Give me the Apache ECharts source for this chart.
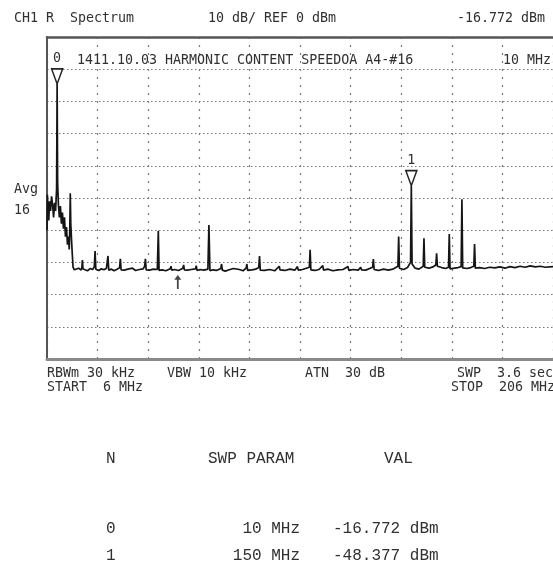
<!DOCTYPE html>
<html>
<head>
<meta charset="utf-8">
<title>CH1 R Spectrum</title>
<script src="https://cdn.jsdelivr.net/npm/echarts@6.0.0/dist/echarts.min.js"></script>
<style>
  html, body { margin: 0; padding: 0; background: #ffffff; }
  #chart { width: 553px; height: 563px; }
</style>
</head>
<body>
<div id="chart"></div>
<script>
// Sweep settings: 6 MHz to 206 MHz, 10 dB/div, 10 divisions
const sweepStartMHz = 6;
const sweepStopMHz = 206;
const refLevelDbm = 0;
const dbPerDiv = 10;
const divisions = 10;
const mhzPerDiv = 20;
// trace sits about 2.2 dB above the graticule on this display
const traceOffsetDb = 2.2;

// Markers N = 0, 1
const markerNumbers = [0, 1];
const markerFreqs = [10, 150];           // MHz
const markerLevels = [-16.772, -48.377]; // dBm

// Averaged trace (16 sweeps): [frequency MHz, level dBm]
const trace = [
  [6.0, -62.2], [6.15, -51.2], [6.4, -55.2], [6.7, -59.2], [7.0, -53.2], [7.4, -56.2],
  [7.8, -51.7], [8.2, -54.2], [8.6, -58.2], [9.0, -53.7], [9.4, -56.2], [9.8, -49.2],
  [10.0, -16.772], [10.2, -47.2], [10.5, -54.2], [10.9, -58.2], [11.3, -54.7], [11.7, -60.2],
  [12.1, -56.7], [12.5, -61.7], [12.9, -58.2], [13.3, -64.2], [13.7, -61.2], [14.1, -66.7],
  [14.5, -64.2], [14.8, -68.2], [15.0, -62.2], [15.2, -50.7], [15.4, -60.2], [15.7, -65.2],
  [16.0, -69.7], [16.3, -73.7], [16.8, -74.5],
  [17.5, -74.3], [18.5, -74.0], [19.5, -74.6], [19.8, -73.7], [20.0, -71.5], [20.2, -74.2],
  [21, -74.5], [22, -74.8], [23, -74.1], [24, -74.4], [24.7, -73.6], [25.0, -68.7], [25.3, -74.3],
  [26.5, -74.7], [27.5, -74.2], [28.5, -74.5], [29.5, -74.0], [29.8, -73.8], [30.1, -70.2], [30.4, -74.6],
  [31.5, -74.3], [32.5, -74.8], [33.5, -74.4], [34.7, -73.9], [35.0, -71.1], [35.3, -74.5],
  [36.5, -74.6], [38, -74.3], [39.8, -74.0], [41, -74.7], [42.5, -74.4], [44, -74.2],
  [44.6, -73.4], [44.9, -71.1], [45.2, -74.5], [46.5, -74.6], [48, -74.3], [49.6, -74.4],
  [50.0, -62.4], [50.3, -74.7], [51.5, -74.5], [53, -74.8], [54.7, -74.2], [55.0, -73.4], [55.3, -74.6],
  [56.5, -74.4], [58, -74.7], [59.7, -74.0], [60.0, -73.0], [60.3, -74.5], [61.5, -74.6],
  [63, -74.4], [64.7, -74.2], [65.0, -73.2], [65.3, -74.7], [66.5, -74.4], [68, -74.6], [69.6, -74.3],
  [70.0, -60.6], [70.4, -74.8], [71.5, -74.5], [73, -74.7], [74.7, -74.1], [75.0, -72.7], [75.3, -74.6],
  [76.5, -74.9], [78, -74.5], [79.7, -74.1], [80.0, -73.5], [80.3, -74.7], [82, -74.4], [83.5, -74.8],
  [84.7, -74.0], [85.0, -72.7], [85.3, -74.7], [87, -74.5], [88.5, -74.3], [89.7, -73.8],
  [90.0, -70.2], [90.3, -74.6], [92, -74.7], [94, -74.4], [96, -74.8], [97.8, -73.4], [98.1, -74.5],
  [100, -74.7], [102, -74.3], [104, -74.6], [105, -73.5], [105.3, -74.6], [107, -74.4], [109.7, -73.7],
  [110.0, -68.3], [110.3, -74.5], [112, -74.7], [113.5, -74.4], [115, -73.2], [115.3, -74.6],
  [117, -74.3], [119, -74.8], [121, -74.5], [123, -74.4], [125, -73.5], [125.3, -74.7], [127, -74.4],
  [129, -74.6], [130, -73.7], [130.3, -74.5], [132, -74.6], [134.7, -73.7], [135.0, -71.2], [135.3, -74.4],
  [137, -74.7], [139, -74.3], [141, -74.6], [143, -74.2], [144.7, -73.4], [145.0, -64.2], [145.3, -74.0],
  [147, -74.4], [148.5, -73.8], [149.7, -72.2], [150.0, -48.377], [150.3, -72.7], [151.5, -74.0],
  [153, -74.3], [154.7, -73.4], [155.0, -64.7], [155.3, -73.7], [157, -74.0], [158.5, -73.6],
  [159.7, -73.0], [160.0, -69.4], [160.3, -73.4], [162, -73.8], [163.5, -74.1], [164.7, -73.7],
  [165.0, -63.4], [165.3, -74.2], [167, -74.0], [168.5, -73.8], [169.7, -73.5], [170.0, -52.6],
  [170.3, -73.9], [172, -74.1], [173.5, -73.8], [174.7, -73.4], [175.0, -66.5], [175.3, -74.0],
  [177, -73.8], [179, -74.1], [181, -73.7], [183, -73.9], [185, -73.6], [187, -74.0], [189, -73.5],
  [191, -73.8], [193, -73.4], [195, -73.7], [197, -73.3], [199, -73.6], [201, -73.4], [203, -73.7],
  [206, -73.5]
];

// Reference-marker arrow under the trace
const refArrow = [57.7, -78.3];

// Annotation text
const titleRow = ['CH1 R  Spectrum', '10 dB/ REF 0 dBm'];
const traceTitle = '1411.10.03 HARMONIC CONTENT SPEEDOA A4-#16';
const avgRow = ['Avg', '16'];
const settingsRow1 = ['RBWm 30 kHz', 'VBW 10 kHz', 'ATN  30 dB', 'SWP  3.6 sec'];
const settingsRow2 = ['START  ' + sweepStartMHz + ' MHz', 'STOP  ' + sweepStopMHz + ' MHz'];
const tableHeader = ['N', 'SWP PARAM', 'VAL'];

const MONO = '"DejaVu Sans Mono", "Liberation Mono", monospace';
const TABLE_FONT = '"Liberation Mono", "DejaVu Sans Mono", monospace';
const INK = '#303030';

function txt(x, y, text, size, family, align) {
  return {
    type: 'text', x: x, y: y, z: 10,
    style: {
      text: text,
      font: size + 'px ' + family,
      fill: INK,
      align: align || 'left',
      verticalAlign: 'middle'
    }
  };
}

const fmtDbm = v => v.toFixed(3) + ' dBm';
const fmtMHz = v => v + ' MHz';

const graphics = [
  txt(14, 19, titleRow[0], 13.3, MONO),
  txt(208, 19, titleRow[1], 13.3, MONO),
  txt(457, 19, fmtDbm(markerLevels[0]), 13.3, MONO),
  txt(77, 61, traceTitle, 13.3, MONO),
  txt(503, 61, fmtMHz(markerFreqs[0]), 13.3, MONO),
  txt(14, 190, avgRow[0], 13.3, MONO),
  txt(14, 211, avgRow[1], 13.3, MONO),
  txt(47, 374, settingsRow1[0], 13.3, MONO),
  txt(167, 374, settingsRow1[1], 13.3, MONO),
  txt(305, 374, settingsRow1[2], 13.3, MONO),
  txt(457, 374, settingsRow1[3], 13.3, MONO),
  txt(47, 388, settingsRow2[0], 13.3, MONO),
  txt(451, 388, settingsRow2[1], 13.3, MONO),
  txt(106, 459, tableHeader[0], 16, TABLE_FONT),
  txt(208, 459, tableHeader[1], 16, TABLE_FONT),
  txt(384, 459, tableHeader[2], 16, TABLE_FONT)
];
markerNumbers.forEach((n, i) => {
  const y = 529 + i * 27;
  graphics.push(txt(106, y, String(n), 16, TABLE_FONT));
  graphics.push(txt(300, y, fmtMHz(markerFreqs[i]), 16, TABLE_FONT, 'right'));
  graphics.push(txt(333, y, fmtDbm(markerLevels[i]), 16, TABLE_FONT));
});

const chart = echarts.init(document.getElementById('chart'), null, { renderer: 'canvas' });

const hidden = { axisTick: { show: false }, axisLabel: { show: false } };

chart.setOption({
  animation: false,
  backgroundColor: '#ffffff',
  grid: { left: 47, top: 37, width: 509, height: 322 },
  xAxis: [
    {
      type: 'value',
      min: sweepStartMHz, max: sweepStopMHz,
      axisLine: { show: true, onZero: false, lineStyle: { color: '#8a8a8a', width: 3 } },
      splitLine: { show: false },
      ...hidden
    },
    {
      // span axis (MHz from start) carrying the vertical graticule
      type: 'value', position: 'top',
      min: 0, max: sweepStopMHz - sweepStartMHz, interval: mhzPerDiv,
      axisLine: { show: true, onZero: false, lineStyle: { color: '#555', width: 2.5 } },
      splitLine: { show: true, lineStyle: { color: '#7a7a7a', width: 1.2, type: [2, 6] } },
      ...hidden
    }
  ],
  yAxis: [
    {
      // trace level axis
      type: 'value',
      min: refLevelDbm - traceOffsetDb - divisions * dbPerDiv,
      max: refLevelDbm - traceOffsetDb,
      axisLine: { show: false },
      splitLine: { show: false },
      ...hidden
    },
    {
      // graticule: 10 dB per division below REF
      type: 'value', position: 'left',
      min: refLevelDbm - divisions * dbPerDiv, max: refLevelDbm, interval: dbPerDiv,
      axisLine: { show: true, onZero: false, lineStyle: { color: '#555', width: 2 } },
      splitLine: { show: true, lineStyle: { color: '#7a7a7a', width: 1.2, type: [1.5, 2.5] } },
      ...hidden
    }
  ],
  graphic: graphics,
  series: [
    {
      type: 'line',
      xAxisIndex: 0,
      yAxisIndex: 0,
      data: trace,
      showSymbol: false,
      symbol: 'none',
      lineStyle: { color: '#151515', width: 1.7 },
      clip: true,
      markPoint: {
        silent: true,
        data: [
          ...markerNumbers.map((n, i) => ({
            coord: [markerFreqs[i], markerLevels[i]],
            value: n,
            symbol: 'path://M0,0 L10,0 L5,14 Z',
            symbolSize: [11, 15],
            symbolOffset: [0, -7.5],
            itemStyle: { color: '#ffffff', borderColor: '#222', borderWidth: 1.6 },
            label: {
              show: true, position: 'top', distance: 3,
              formatter: String(n),
              color: INK, fontFamily: MONO, fontSize: 13.3
            }
          })),
          {
            coord: [sweepStartMHz, refLevelDbm],
            symbol: 'path://M0,0 L8,5 L0,10 Z',
            symbolSize: [7, 10],
            symbolOffset: [-6, 4],
            itemStyle: { color: '#111' },
            label: { show: false }
          },
          {
            coord: refArrow,
            symbol: 'path://M5,0 L9,5 L6,5 L6,15 L4,15 L4,5 L1,5 Z',
            symbolSize: [7, 14],
            itemStyle: { color: '#444' },
            label: { show: false }
          }
        ]
      }
    }
  ]
});
</script>
</body>
</html>
